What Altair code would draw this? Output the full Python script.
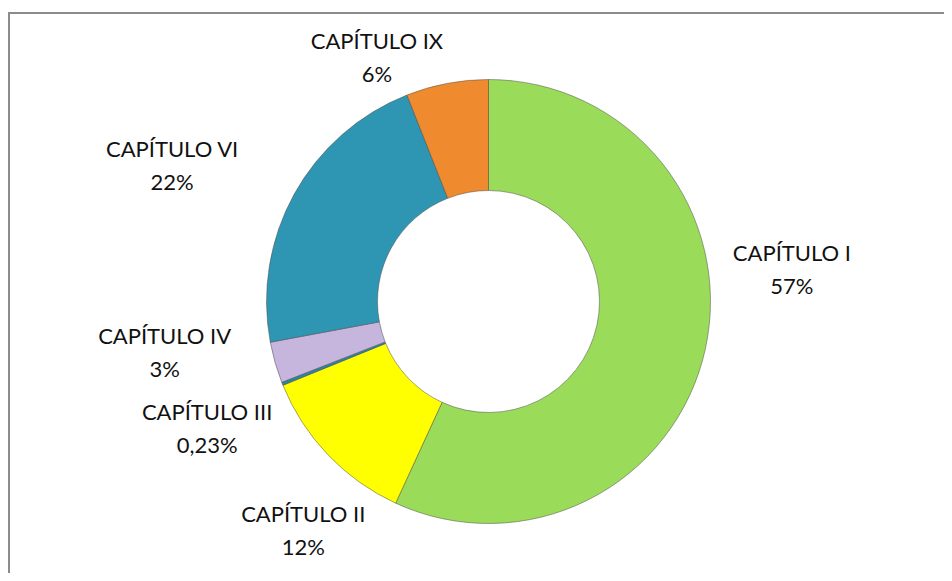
import altair as alt
import pandas as pd

categories = ["CAPÍTULO I", "CAPÍTULO II", "CAPÍTULO III", "CAPÍTULO IV", "CAPÍTULO VI", "CAPÍTULO IX"]
values = [57, 12, 0.23, 3, 22, 6]
pct_labels = ["57%", "12%", "0,23%", "3%", "22%", "6%"]
colors = ["#9BDB5A", "#FFFF00", "#2C86A0", "#C6B5DD", "#2E95B3", "#F08A2E"]
# label placement (angle in degrees clockwise from top, distance from centre)
label_angle = [84.1, 218.9, 245.6, 260.9, 293.1, 335.3]
label_radius = [305, 295, 309, 328, 344, 267]

df = pd.DataFrame({
    "idx": list(range(len(categories))),
    "cat": categories,
    "value": values,
    "label": [c + "\n" + p for c, p in zip(categories, pct_labels)],
    "lab_angle": label_angle,
    "lab_r": label_radius,
})

W, H = 936, 565
CX, CY = 480.5, 293.5

base = alt.Chart(df)

arcs = base.mark_arc(innerRadius=111, outerRadius=222, stroke="#4a4a4a",
                     strokeWidth=0.7, strokeOpacity=0.7).encode(
    theta=alt.Theta("value:Q", stack=True),
    color=alt.Color("cat:N", scale=alt.Scale(domain=categories, range=colors), legend=None),
    order=alt.Order("idx:Q"),
    x=alt.value(CX),
    y=alt.value(CY),
)

texts = base.mark_text(lineBreak="\n", font="Lato", fontSize=22, lineHeight=33, dy=-16.5,
                       align="center", baseline="middle", color="#111111").encode(
    theta=alt.Theta("lab_angle:Q", stack=False,
                    scale=alt.Scale(domain=[0, 360], range=[0, 6.283185307])),
    radius=alt.Radius("lab_r:Q", scale=alt.Scale(type="linear", domain=[0, 400], range=[0, 400], zero=True)),
    text="label:N",
    x=alt.value(CX),
    y=alt.value(CY),
)

frame_df = pd.DataFrame({"k": [0]})
left_line = alt.Chart(frame_df).mark_rule(color="#8c8c8c", strokeWidth=2).encode(
    x=alt.value(1), y=alt.value(5), y2=alt.value(H))
top_line = alt.Chart(frame_df).mark_rule(color="#8c8c8c", strokeWidth=2).encode(
    x=alt.value(0), x2=alt.value(W), y=alt.value(5))

chart = alt.layer(left_line, top_line, arcs, texts).resolve_scale(
    theta="independent", radius="independent"
).properties(
    width=W, height=H,
    autosize=alt.AutoSizeParams(type="none"),
    padding=0,
).configure_view(stroke=None)

chart.save("out.html", embed_options={"renderer": "svg", "actions": False})
